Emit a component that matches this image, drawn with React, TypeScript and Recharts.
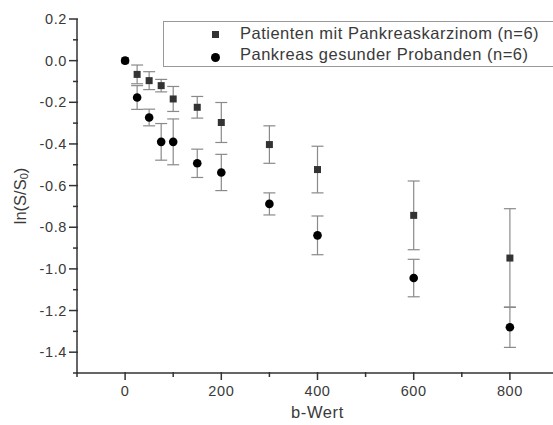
import { ScatterChart, Scatter, XAxis, YAxis, ErrorBar } from "recharts";

const bValues = [0, 25, 50, 75, 100, 150, 200, 300, 400, 600, 800];
const patientMean = [0, -0.066, -0.096, -0.12, -0.184, -0.224, -0.297, -0.403, -0.523, -0.743, -0.948];
const patientErr = [0, 0.045, 0.043, 0.03, 0.06, 0.052, 0.096, 0.09, 0.112, 0.165, 0.237];
const healthyMean = [0, -0.177, -0.273, -0.39, -0.39, -0.493, -0.537, -0.688, -0.839, -1.044, -1.28];
const healthyErr = [0, 0.057, 0.04, 0.088, 0.11, 0.068, 0.087, 0.053, 0.093, 0.09, 0.097];

const xTicks = [-100, 0, 100, 200, 300, 400, 500, 600, 700, 800];
const yTicks = [-1.5, -1.4, -1.3, -1.2, -1.1, -1.0, -0.9, -0.8, -0.7, -0.6, -0.5, -0.4, -0.3, -0.2, -0.1, 0.0, 0.1, 0.2];

const seriesNames = ["Patienten mit Pankreaskarzinom (n=6)", "Pankreas gesunder Probanden (n=6)"];

const patientData = bValues.map((b, i) => ({ b, v: patientMean[i], err: patientErr[i] }));
const healthyData = bValues.map((b, i) => ({ b, v: healthyMean[i], err: healthyErr[i] }));

const FONT = "'Liberation Sans', Arial, sans-serif";
const AXIS = "#333";
const TEXT = "#3a3a3a";

function XTick(props: any) {
  const { x, y, payload } = props;
  const major = payload.value % 200 === 0;
  return (
    <g>
      <line x1={x} x2={x} y1={y - 1} y2={y + (major ? 7 : 4)} stroke={AXIS} strokeWidth={1.5} />
      {major && (
        <text x={x} y={y + 23} textAnchor="middle" fontSize={14.5} letterSpacing={0.6} fontFamily={FONT} fill={TEXT}>
          {payload.value}
        </text>
      )}
    </g>
  );
}

function YTick(props: any) {
  const { x, y, payload } = props;
  const major = Math.round(payload.value * 10) % 2 === 0;
  return (
    <g>
      <line x1={x - (major ? 8 : 4)} x2={x + 1} y1={y} y2={y} stroke={AXIS} strokeWidth={1.5} />
      {major && (
        <text x={x - 10} y={y + 5} textAnchor="end" fontSize={14.5} letterSpacing={0.6} fontFamily={FONT} fill={TEXT}>
          {payload.value.toFixed(1)}
        </text>
      )}
    </g>
  );
}

function SquareShape(props: any) {
  const { cx, cy } = props;
  if (cx == null || cy == null) return <g />;
  return <rect x={cx - 3.5} y={cy - 3.5} width={7} height={7} fill="#333" />;
}

function CircleShape(props: any) {
  const { cx, cy } = props;
  if (cx == null || cy == null) return <g />;
  return <circle cx={cx} cy={cy} r={4.3} fill="#000" />;
}

function LegendBox() {
  return (
    <div
      style={{
        position: "absolute",
        left: 163,
        top: 21,
        border: "1.5px solid #999",
        width: 420,
        height: 44,
        background: "#fff",
        fontFamily: FONT,
        fontSize: 16.5,
        letterSpacing: 0.5,
        color: TEXT,
      }}
    >
      <div style={{ position: "absolute", left: 48, top: 9, width: 7, height: 7, background: "#333" }} />
      <div style={{ position: "absolute", left: 76, top: 2, whiteSpace: "nowrap" }}>{seriesNames[0]}</div>
      <div
        style={{ position: "absolute", left: 47, top: 31, width: 9, height: 9, borderRadius: "50%", background: "#000" }}
      />
      <div style={{ position: "absolute", left: 76, top: 23, whiteSpace: "nowrap" }}>{seriesNames[1]}</div>
    </div>
  );
}

export default function App() {
  return (
    <div style={{ position: "fixed", left: 0, top: 0, width: 553, height: 425, overflow: "hidden", background: "#fff" }}>
      <ScatterChart width={560} height={425} margin={{ top: 19, right: 2, left: 0, bottom: 0 }}>
        <XAxis
          type="number"
          dataKey="b"
          domain={[-100, 900]}
          ticks={xTicks}
          interval={0}
          tickSize={0}
          tickMargin={0}
          tick={<XTick />}
          height={52}
          axisLine={{ stroke: AXIS, strokeWidth: 1.5 }}
          allowDataOverflow
          label={{
            content: (p: any) => {
              const vb = p.viewBox;
              return (
                <text
                  x={vb.x + vb.width / 2}
                  y={vb.y + 45}
                  textAnchor="middle"
                  fontSize={16.5}
                  letterSpacing={0.6}
                  fontFamily={FONT}
                  fill={TEXT}
                >
                  b-Wert
                </text>
              );
            },
          }}
        />
        <YAxis
          type="number"
          dataKey="v"
          domain={[-1.5, 0.2]}
          ticks={yTicks}
          interval={0}
          tickSize={0}
          tickMargin={0}
          tick={<YTick />}
          width={77}
          axisLine={{ stroke: AXIS, strokeWidth: 1.5 }}
          allowDataOverflow
          label={{
            content: (p: any) => {
              const vb = p.viewBox;
              const cx = 20;
              const cy = vb.y + vb.height / 2;
              return (
                <text
                  x={cx}
                  y={cy}
                  transform={`rotate(-90 ${cx} ${cy})`}
                  textAnchor="middle"
                  dominantBaseline="central"
                  fontSize={16.5}
                  fontFamily={FONT}
                  fill={TEXT}
                >
                  ln(S/S
                  <tspan fontSize={11} dy={4}>0</tspan>
                  <tspan dy={-4}>)</tspan>
                </text>
              );
            },
          }}
        />
        <Scatter name={seriesNames[0]} data={patientData} shape={<SquareShape />} isAnimationActive={false}>
          <ErrorBar dataKey="err" direction="y" width={6} stroke="#8a8a8a" strokeWidth={1.2} isAnimationActive={false} />
        </Scatter>
        <Scatter name={seriesNames[1]} data={healthyData} shape={<CircleShape />} isAnimationActive={false}>
          <ErrorBar dataKey="err" direction="y" width={6} stroke="#8a8a8a" strokeWidth={1.2} isAnimationActive={false} />
        </Scatter>
      </ScatterChart>
      <LegendBox />
    </div>
  );
}
